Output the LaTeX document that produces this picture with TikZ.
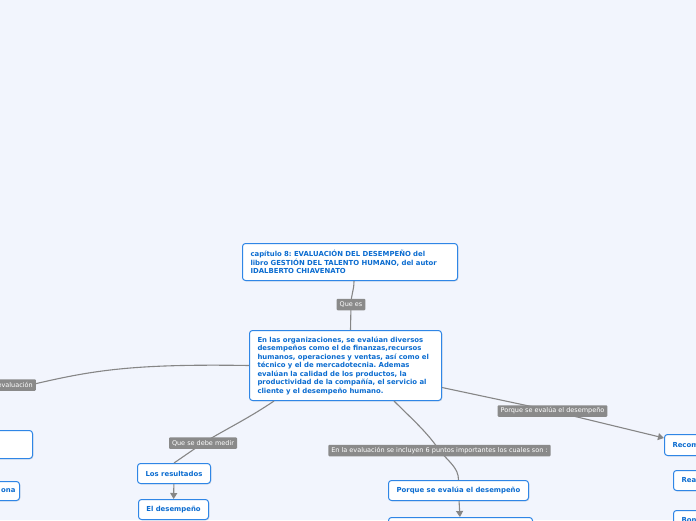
\documentclass[tikz,border=0pt]{standalone}
\usepackage{fontspec}
\setmainfont{DejaVu Sans}
\usetikzlibrary{arrows.meta,shadows}
\definecolor{mapbg}{HTML}{F2F5FD}
\definecolor{mapblue}{HTML}{2F86E6}
\definecolor{maptext}{HTML}{0B6CD0}
\definecolor{mapgray}{HTML}{8A8A8A}
\definecolor{mapline}{HTML}{868686}
\frenchspacing

\begin{document}
\begin{tikzpicture}[
  x=1pt,y=-1pt,
  >={Triangle[length=6pt,width=7pt]},
  topic/.style={draw=mapblue,line width=1pt,rounded corners=3pt,fill=white,text=maptext,
    font=\fontsize{6.9}{8.5}\selectfont\bfseries,inner sep=0pt,
    drop shadow={shadow xshift=0.8pt,shadow yshift=-0.8pt,opacity=0.12,fill=black}},
  lbl/.style={fill=mapgray,text=white,font=\fontsize{6.5}{7.5}\selectfont,
    inner xsep=3pt,inner ysep=0pt,minimum height=11.5pt,rounded corners=1pt},
  link/.style={draw=mapline,line width=1.1pt},
]
\useasboundingbox (0,0) rectangle (696,520);
\clip (0,0) rectangle (696,520);
\fill[mapbg] (0,0) rectangle (696,520);

% ---------- main topics ----------
\node[topic,anchor=north west,minimum width=215pt,minimum height=37pt,text width=199pt,align=left]
  (top) at (242,243) {cap\'itulo 8: EVALUACI\'ON DEL DESEMPE\~NO del\\
  libro GESTI\'ON DEL TALENTO HUMANO, del autor\\ IDALBERTO CHIAVENATO};
\node[topic,anchor=north west,minimum width=192pt,minimum height=70pt,text width=176pt,align=left]
  (ctr) at (249,330) {En las organizaciones, se eval\'uan diversos\\
  desempe\~nos como el de finanzas,recursos\\
  humanos, operaciones y ventas, as\'i como el\\
  t\'ecnico y el de mercadotecnia. Ademas\\
  eval\'uan la calidad de los productos, la\\
  productividad de la compa\~n\'ia, el servicio al\\
  cliente y el desempe\~no humano.};

% ---------- left branch (cut by the frame) ----------
\node[topic,anchor=north east,minimum width=120pt,minimum height=28pt] (lfa) at (33,430) {};
\node[topic,anchor=north east,minimum width=100pt,minimum height=19pt,text width=92pt,align=right]
  (lfb) at (20,481) {ona};

% ---------- lower branches ----------
\node[topic,anchor=north west,minimum width=73pt,minimum height=20pt] (res) at (137,463) {Los resultados};
\node[topic,anchor=north west,minimum width=70pt,minimum height=20pt] (des) at (138,499) {El desempe\~no};
\node[topic,anchor=north west,minimum width=140pt,minimum height=20pt] (por) at (388,480) {Porque se eval\'ua el desempe\~no};
\node[topic,anchor=north west,minimum width=144pt,minimum height=20pt] (bot) at (388,517) {};

% ---------- right branch (cut by the frame) ----------
\node[topic,anchor=north west,minimum width=90pt,minimum height=21pt,text width=74pt,align=left]
  (rec) at (664,434) {Recom};
\node[topic,anchor=north west,minimum width=60pt,minimum height=20pt,text width=44pt,align=left]
  (rea) at (673,470) {Rea};
\node[topic,anchor=north west,minimum width=60pt,minimum height=20pt,text width=44pt,align=left]
  (bon) at (673,510) {Bon};

% ---------- connectors ----------
\coordinate (queC) at (351,304.5);
\coordinate (evlC) at (30,385);
\coordinate (medC) at (203,443);
\coordinate (ptsC) at (439.5,450.5);
\coordinate (prqC) at (552.5,411);

\draw[link] ([xshift=4pt]top.south) .. controls +(0,10) and +(0,-10) .. (queC) -- ([xshift=5pt]ctr.north);
\draw[link] (ctr.west) .. controls +(-120,-2) and +(60,-14) .. (evlC);
\draw[link] ([xshift=25pt]ctr.south west) .. controls +(-25,17) and +(25,-15) .. (medC) -- (res.north);
\draw[link] ([xshift=145pt]ctr.south west) .. controls +(18,18) and +(-12,-18) .. (ptsC)
  .. controls +(10,12) and +(0,-12) .. (por.north);
\draw[link,->] ([yshift=-22pt]ctr.east) -- (prqC) -- ([yshift=7pt]rec.west);
\draw[link,->] (res) -- (des);
\draw[link,->] (por) -- (bot);

% ---------- connector labels ----------
\node[lbl] (que) at (queC) {Que es};
\node[lbl,anchor=east] (evl) at ([xshift=6pt]evlC) {evaluaci\'on};
\node[lbl] (med) at (medC) {Que se debe medir};
\node[lbl] (pts) at (ptsC) {En la evaluaci\'on se incluyen 6 puntos importantes los cuales son :};
\node[lbl] (prq) at (prqC) {Porque se eval\'ua el desempe\~no};

\end{tikzpicture}
\end{document}
